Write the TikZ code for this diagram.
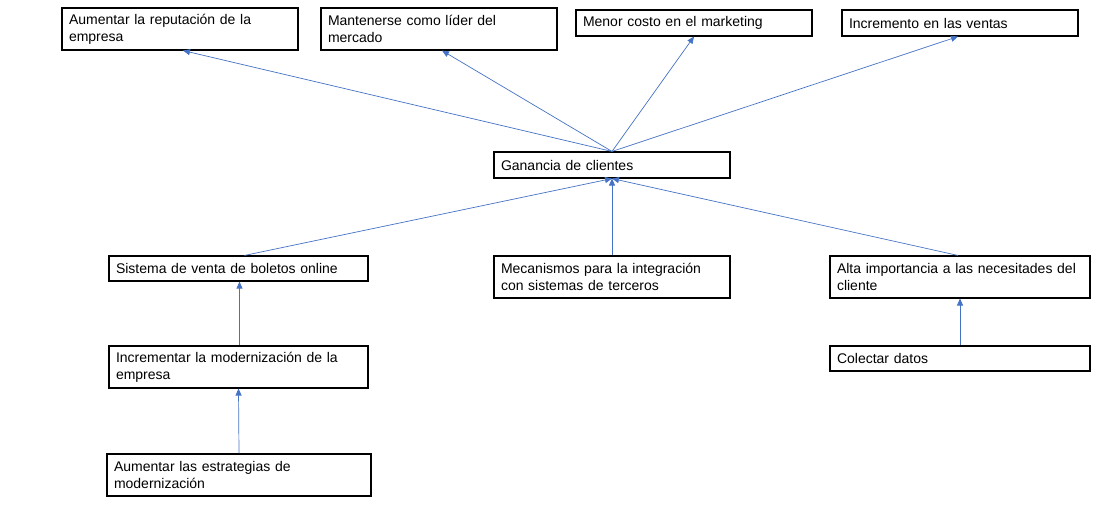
\documentclass[tikz,border=0pt]{standalone}
\usepackage{fontspec}
\setmainfont{Liberation Sans}
\usetikzlibrary{arrows.meta}
\definecolor{arrowblue}{RGB}{68,114,196}
\tikzset{
  box/.style={draw=black, line width=1.1pt, rectangle, align=left,
    inner xsep=7pt, inner ysep=2pt,
    font=\fontsize{14}{17}\selectfont},
  link/.style={draw=arrowblue, line width=0.7pt,
    -{Triangle[length=7pt,width=6pt]}}
}
\newcommand{\mkbox}[6]{% name, x1, y1, x2, y2, text
  \pgfmathsetmacro{\bw}{#4-#2}\pgfmathsetmacro{\bh}{#5-#3}%
  \pgfmathsetmacro{\tw}{#4-#2-14}%
  \node[box, minimum width=\bw pt, minimum height=\bh pt, text width=\tw pt]
    (#1) at ({(#2+#4)/2},{(#3+#5)/2}) {#6};}
\begin{document}
\begin{tikzpicture}[x=1pt,y=-1pt]
\useasboundingbox (0,0) rectangle (1094,513);
\mkbox{a1}{62}{8}{298}{50}{Aumentar la reputación de la\\empresa}
\mkbox{a2}{321}{8}{557}{50}{Mantenerse como líder del\\mercado}
\mkbox{a3}{576}{10}{812}{36}{Menor costo en el marketing}
\mkbox{a4}{842}{10}{1078}{36}{Incremento en las ventas}
\mkbox{g}{494}{152}{730}{178}{Ganancia de clientes}
\mkbox{s}{109}{256}{368}{281}{Sistema de venta de boletos online}
\mkbox{m}{494}{256}{730}{298}{Mecanismos para la integración\\con sistemas de terceros}
\mkbox{alta}{830}{256}{1090}{298}{Alta importancia a las necesitades del\\cliente}
\mkbox{inc}{109}{346}{368}{388}{Incrementar la modernización de la\\empresa}
\mkbox{col}{830}{346}{1090}{371}{Colectar datos}
\mkbox{aum}{107}{454}{371}{496}{Aumentar las estrategias de\\modernización}
\draw[link] (g.north) -- ([xshift=3pt]a1.south);
\draw[link] (g.north) -- ([xshift=3pt]a2.south);
\draw[link] (g.north) -- (a3.south);
\draw[link] (g.north) -- ([xshift=-2pt]a4.south);
\draw[link] ([xshift=6pt]s.north) -- (g.south);
\draw[link] (m.north) -- (g.south);
\draw[link] ([xshift=-2pt]alta.north) -- (g.south);
\draw[link] ([xshift=1pt]inc.north) -- ([xshift=1pt]s.south);
\draw[link] (aum.north) -- (inc.south);
\draw[link] (col.north) -- (alta.south);
\end{tikzpicture}
\end{document}
